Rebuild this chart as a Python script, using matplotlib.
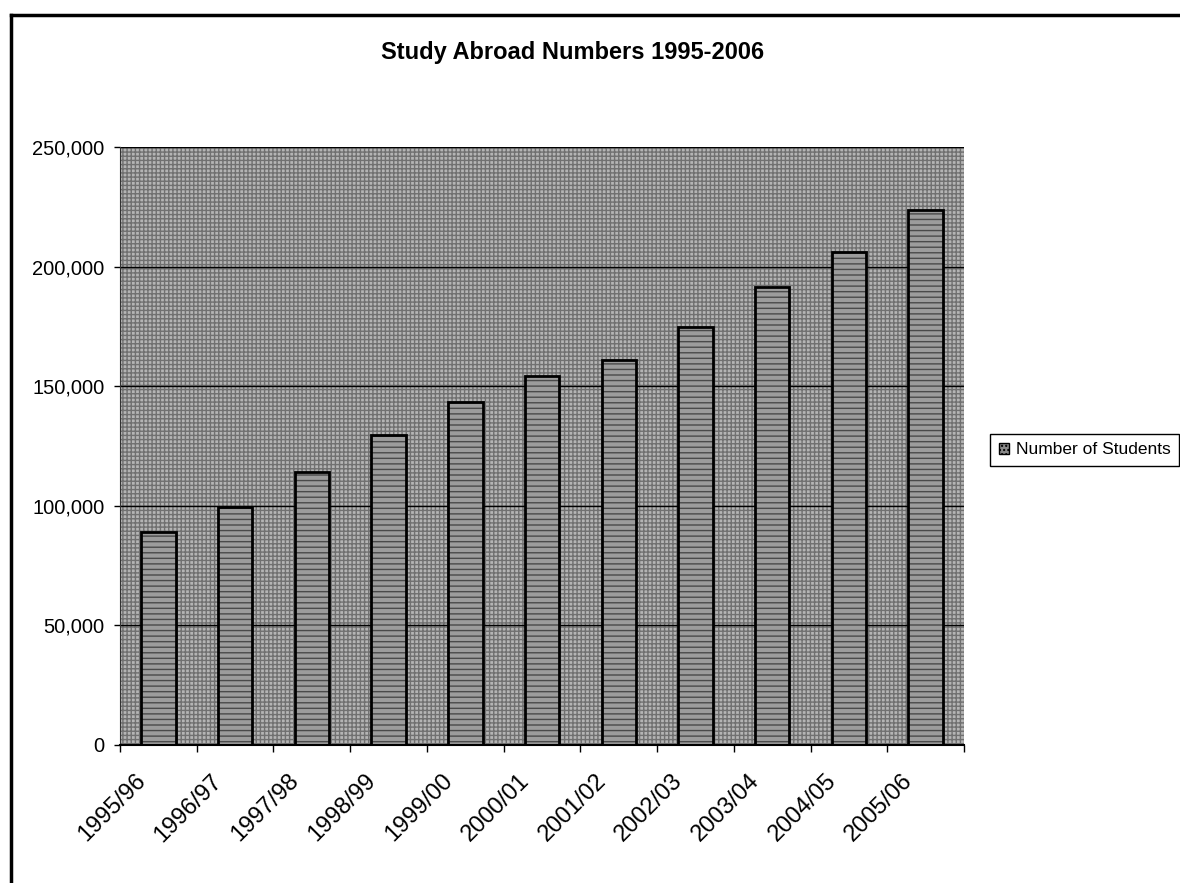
import numpy as np
import matplotlib
matplotlib.use("Agg")
import matplotlib.pyplot as plt
from matplotlib.patches import Rectangle
from matplotlib.lines import Line2D
from matplotlib.ticker import FuncFormatter, FixedLocator
from matplotlib.transforms import ScaledTranslation

# Students studying abroad per academic year
years = ["1995/96", "1996/97", "1997/98", "1998/99", "1999/00", "2000/01",
         "2001/02", "2002/03", "2003/04", "2004/05", "2005/06"]
students = [89242, 99448, 113959, 129770, 143590, 154168,
            160920, 174629, 191321, 205983, 223534]
y_ticks = [0, 50000, 100000, 150000, 200000, 250000]

plt.rcParams["font.family"] = ["Liberation Sans", "DejaVu Sans"]

fig = plt.figure(figsize=(11.8, 8.83), dpi=100)
ax = fig.add_axes([0.1017, 0.1563, 0.7153, 0.6772])

# grey screened plot area
ax.set_facecolor("#b4b4b4")
ax.add_patch(Rectangle((0, 0), 1, 1, transform=ax.transAxes, facecolor="none",
                       edgecolor="#707070", hatch="++++", lw=0, zorder=0))

x = np.arange(len(years))
ax.bar(x, students, width=0.45, color="#9c9c9c", edgecolor="#4a4a4a",
       hatch="---", lw=0, zorder=2)
ax.bar(x, students, width=0.45, color="none", edgecolor="black", lw=2, zorder=3)

ax.set_xlim(-0.5, len(years) - 0.5)
ax.set_ylim(0, 250000)
ax.set_yticks(y_ticks)
ax.yaxis.set_major_formatter(FuncFormatter(lambda v, p: f"{int(v):,}"))
ax.grid(axis="y", color="black", lw=1)
ax.set_axisbelow(True)

# slanted category labels, ending just left of each bar centre
ax.set_xticks(x)
ax.set_xticklabels([])
ax.tick_params(axis="x", which="major", length=0)
shift = ScaledTranslation(-0.24, -0.25, fig.dpi_scale_trans)
for xi, yr in zip(x, years):
    ax.text(xi, 0, yr, transform=ax.get_xaxis_transform() + shift,
            rotation=45, ha="right", va="top", rotation_mode="anchor",
            fontsize=17, clip_on=False)

ax.xaxis.set_minor_locator(FixedLocator(np.arange(-0.5, len(years), 1)))
ax.tick_params(axis="x", which="minor", length=5, width=1, direction="out")
ax.tick_params(axis="y", length=4, width=1, direction="out", labelsize=14.5, pad=7)

for side in ["top", "right"]:
    ax.spines[side].set_visible(False)
ax.spines["left"].set_color("#333333")
ax.spines["bottom"].set_color("black")
ax.spines["bottom"].set_linewidth(1.5)

fig.text(0.485, 0.940, "Study Abroad Numbers 1995-2006", ha="center", va="center",
         fontsize=17, fontweight="bold")

handle = Rectangle((0, 0), 1, 1, facecolor="#8a8a8a", edgecolor="black", hatch="....")
leg = fig.legend([handle], ["Number of Students"], loc="center left",
                 bbox_to_anchor=(0.839, 0.4904), borderaxespad=0, fontsize=12.5,
                 fancybox=False, edgecolor="black", framealpha=1,
                 handlelength=0.6, handleheight=0.6, handletextpad=0.4,
                 borderpad=0.5)
leg.get_frame().set_linewidth(1)

# chart frame
fig.add_artist(Line2D([0.0093, 0.0093], [0.0, 0.983], color="black", lw=2.5,
                      transform=fig.transFigure))
fig.add_artist(Line2D([0.0093, 1.0], [0.983, 0.983], color="black", lw=2.5,
                      transform=fig.transFigure))

fig.savefig("out.png", dpi=100)
